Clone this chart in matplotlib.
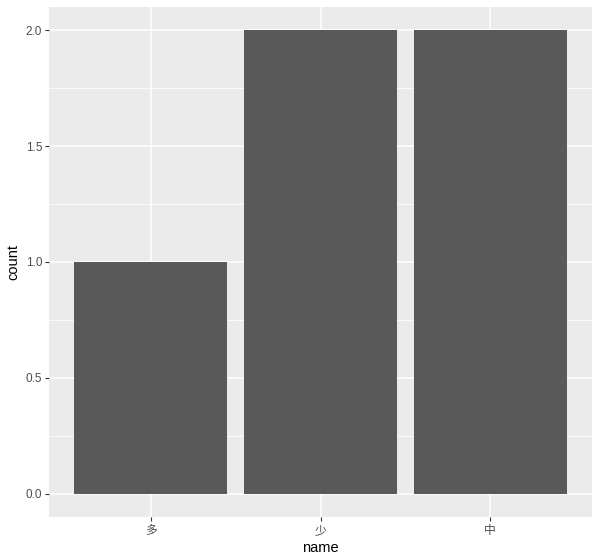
import matplotlib
matplotlib.use("Agg")
import matplotlib.pyplot as plt
import numpy as np

plt.rcParams['font.family'] = ['Liberation Sans', 'Noto Sans CJK SC', 'DejaVu Sans']

names = ["多", "少", "中"]
counts = [1, 2, 2]

fig = plt.figure(figsize=(6, 5.6), dpi=100)
ax = fig.add_axes([49 / 600, 43 / 560, 543 / 600, 510 / 560])

x = np.arange(1, len(names) + 1)
ax.set_facecolor("#EBEBEB")
ax.set_axisbelow(True)

# grid: major and minor, white
ax.set_yticks([0, 0.5, 1.0, 1.5, 2.0])
ax.set_yticks([0.25, 0.75, 1.25, 1.75], minor=True)
ax.grid(True, which="major", color="white", linewidth=1.1)
ax.grid(True, which="minor", axis="y", color="white", linewidth=0.55)

ax.bar(x, counts, width=0.9, color="#595959")

ax.set_xlim(0.4, 3.6)
ax.set_ylim(-0.1, 2.1)
ax.set_xticks(x)
ax.set_xticklabels(names, family=['Noto Sans CJK SC', 'DejaVu Sans'])
ax.set_yticklabels(["0.0", "0.5", "1.0", "1.5", "2.0"])

for s in ax.spines.values():
    s.set_visible(False)
ax.tick_params(axis="both", which="major", colors="#333333", labelcolor="#4D4D4D",
               labelsize=8.5, length=3, width=0.8, pad=2)
ax.tick_params(axis="both", which="minor", length=0)

ax.set_xlabel("name", fontsize=10.5, color="black", labelpad=3)
ax.set_ylabel("count", fontsize=10.5, color="black", labelpad=4)

fig.savefig("out.png", dpi=100)
